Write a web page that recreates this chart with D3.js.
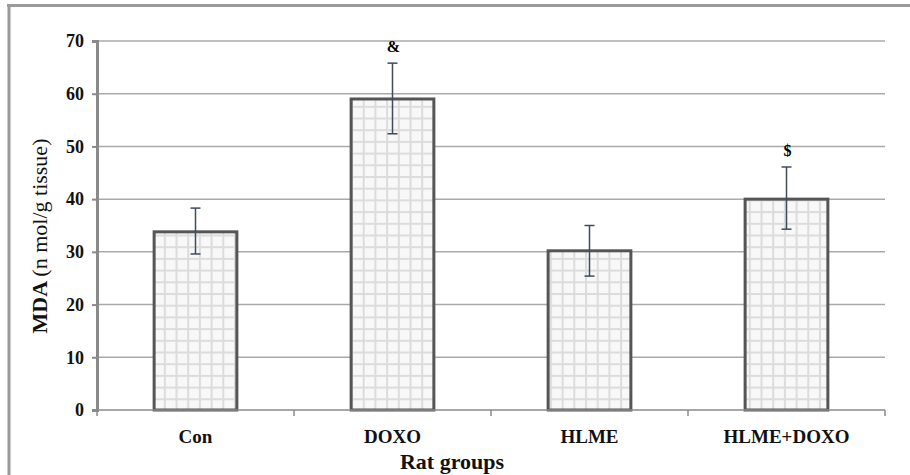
<!DOCTYPE html>
<html><head><meta charset="utf-8">
<script src="https://cdn.jsdelivr.net/npm/d3@7"></script>
<style>body{margin:0;background:#fff}svg{display:block}</style>
</head><body>
<svg id="c" width="910" height="475"></svg>
<script>
const categories = ["Con", "DOXO", "HLME", "HLME+DOXO"];
const means = [33.8, 59.0, 30.2, 40.0];
const errHigh = [38.3, 65.8, 35.0, 46.1];
const errLow = [29.6, 52.4, 25.4, 34.3];
const marks = ["", "&", "", "$"];
const yTicks = [0, 10, 20, 30, 40, 50, 60, 70];

const svg = d3.select("#c");
const m = {l: 97, r: 885, t: 41, b: 410};
const x = d3.scaleBand().domain(categories).range([m.l, m.r]).paddingInner(0.58).paddingOuter(0.29);
const xb = d3.scaleBand().domain(categories).range([m.l, m.r]);
const y = d3.scaleLinear().domain([0, 70]).range([m.b, m.t]);
const serif = "'Liberation Serif','Times New Roman',serif";

// frame
svg.append("line").attr("x1", 9).attr("x2", 9).attr("y1", 5).attr("y2", 475).attr("stroke", "#9a9a9a").attr("stroke-width", 3);
svg.append("line").attr("x1", 7).attr("x2", 910).attr("y1", 5.5).attr("y2", 5.5).attr("stroke", "#9a9a9a").attr("stroke-width", 3);

// pattern
const defs = svg.append("defs");
const pat = defs.append("pattern").attr("id", "grid").attr("patternUnits", "userSpaceOnUse")
  .attr("width", 11.7).attr("height", 11.7).attr("x", 0).attr("y", m.b);
pat.append("rect").attr("width", 11.7).attr("height", 11.7).attr("fill", "#f8f8f8");
pat.append("line").attr("x1", 1).attr("x2", 1).attr("y1", 0).attr("y2", 11.7).attr("stroke", "#dcdcdc").attr("stroke-width", 2);
pat.append("line").attr("x1", 0).attr("x2", 11.7).attr("y1", 1).attr("y2", 1).attr("stroke", "#dcdcdc").attr("stroke-width", 2);

// gridlines
svg.append("g").selectAll("line").data(yTicks.filter(d => d > 0)).join("line")
  .attr("x1", m.l).attr("x2", m.r).attr("y1", d => y(d)).attr("y2", d => y(d))
  .attr("stroke", "#aaaaaa").attr("stroke-width", 1.5);

// y axis
const ya = svg.append("g").attr("transform", `translate(${m.l},0)`)
  .call(d3.axisLeft(y).tickValues(yTicks).tickSize(5).tickPadding(8).tickFormat(d3.format("d")));
ya.select(".domain").attr("stroke", "#8a8a8a").attr("stroke-width", 3);
ya.selectAll(".tick line").attr("stroke", "#8a8a8a").attr("stroke-width", 2);
ya.selectAll("text").attr("font-family", serif).attr("font-weight", "bold").attr("font-size", 18).attr("fill", "#111");

// bars
svg.append("g").selectAll("rect").data(categories).join("rect")
  .attr("x", d => x(d)).attr("width", x.bandwidth())
  .attr("y", (d, i) => y(means[i])).attr("height", (d, i) => y(0) - y(means[i]))
  .attr("fill", "url(#grid)").attr("stroke", "#555555").attr("stroke-width", 3);

// x axis
const xa = svg.append("g").attr("transform", `translate(0,${m.b})`)
  .call(d3.axisBottom(xb).tickSize(0).tickPadding(20));
xa.select(".domain").remove();
svg.append("line").attr("x1", m.l).attr("x2", m.r).attr("y1", m.b).attr("y2", m.b).attr("stroke", "#8a8a8a").attr("stroke-width", 1.5);
svg.append("g").selectAll("line").data(d3.range(categories.length + 1)).join("line")
  .attr("x1", i => m.l + i * xb.step()).attr("x2", i => m.l + i * xb.step())
  .attr("y1", m.b).attr("y2", m.b + 6).attr("stroke", "#8a8a8a").attr("stroke-width", 1.5);
xa.selectAll("text").attr("font-family", serif).attr("font-weight", "bold").attr("font-size", 19).attr("fill", "#111");

// error bars
const eg = svg.append("g").attr("stroke", "#3f4b5e").attr("stroke-width", 1.5);
categories.forEach((c, i) => {
  const cx = x(c) + x.bandwidth() / 2;
  eg.append("line").attr("x1", cx).attr("x2", cx).attr("y1", y(errHigh[i])).attr("y2", y(errLow[i]));
  eg.append("line").attr("x1", cx - 5).attr("x2", cx + 5).attr("y1", y(errHigh[i])).attr("y2", y(errHigh[i]));
  eg.append("line").attr("x1", cx - 5).attr("x2", cx + 5).attr("y1", y(errLow[i])).attr("y2", y(errLow[i]));
});

// significance marks
svg.append("g").selectAll("text").data(categories).join("text")
  .attr("x", d => x(d) + x.bandwidth() / 2 + 1)
  .attr("y", (d, i) => y(errHigh[i]) - 11)
  .attr("text-anchor", "middle").attr("font-family", serif).attr("font-weight", "bold").attr("font-size", 16)
  .text((d, i) => marks[i]);

// axis titles
const yt = svg.append("text").attr("transform", "translate(47,236) rotate(-90)")
  .attr("text-anchor", "middle").attr("font-family", serif).attr("font-size", 22).attr("fill", "#111");
yt.append("tspan").attr("font-weight", "bold").text("MDA ");
yt.append("tspan").text("(n mol/g tissue)");

svg.append("text").attr("x", 452).attr("y", 469).attr("text-anchor", "middle")
  .attr("font-family", serif).attr("font-weight", "bold").attr("font-size", 22).attr("fill", "#111")
  .text("Rat groups");
</script>
</body></html>
